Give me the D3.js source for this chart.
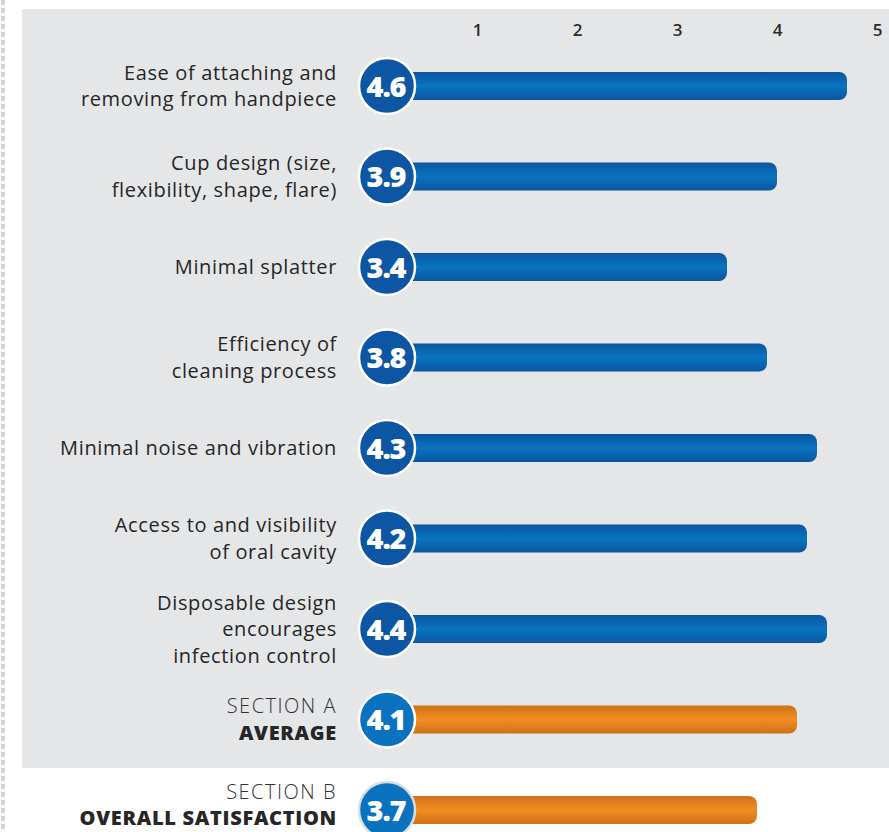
<!DOCTYPE html>
<html>
<head>
<meta charset="utf-8">
<script src="https://cdn.jsdelivr.net/npm/d3@7"></script>
<style>
  body { margin: 0; background: #fff; }
  svg { display: block; }
</style>
</head>
<body>
<script>
// chart data
var labels = [
  ["Ease of attaching and", "removing from handpiece"],
  ["Cup design (size,", "flexibility, shape, flare)"],
  ["Minimal splatter"],
  ["Efficiency of", "cleaning process"],
  ["Minimal noise and vibration"],
  ["Access to and visibility", "of oral cavity"],
  ["Disposable design", "encourages", "infection control"],
  ["SECTION A", "AVERAGE"],
  ["SECTION B", "OVERALL SATISFACTION"]
];
var scores = [4.6, 3.9, 3.4, 3.8, 4.3, 4.2, 4.4, 4.1, 3.7];
var kinds = ["item", "item", "item", "item", "item", "item", "item", "avgA", "avgB"];
var tickValues = [1, 2, 3, 4, 5];

let w = 889;
let h = 832;

let svg = d3.select("body")
            .append("svg")
            .attr("width", w)
            .attr("height", h);

let defs = svg.append("defs");
function grad(id, edge, mid) {
  let g = defs.append("linearGradient")
    .attr("id", id)
    .attr("x1", 0).attr("y1", 0).attr("x2", 0).attr("y2", 1);
  g.append("stop").attr("offset", "0%").attr("stop-color", edge);
  g.append("stop").attr("offset", "50%").attr("stop-color", mid);
  g.append("stop").attr("offset", "100%").attr("stop-color", edge);
}
grad("blueGrad", "#0b55a2", "#0a74be");
grad("orangeGrad", "#cd7218", "#f38c22");

// dashed left edge
svg.append("line")
   .attr("x1", 3).attr("x2", 3)
   .attr("y1", 0).attr("y2", h)
   .attr("stroke", "#d2d2d2")
   .attr("stroke-width", 4)
   .attr("stroke-dasharray", "5 3");

// grey panel
svg.append("rect")
   .attr("x", 22).attr("y", 9)
   .attr("width", w - 22).attr("height", 759)
   .attr("fill", "#e5e6e8");

let x = d3.scaleLinear().domain([0, 5]).range([387, 887]);
let y = d3.scalePoint().domain(d3.range(scores.length)).range([86, 810]);

// axis (labels sit slightly left of the bar scale, as in the original)
let axis = svg.append("g")
  .attr("transform", "translate(-10, 36)")
  .call(d3.axisTop(x).tickValues(tickValues).tickSize(0).tickPadding(0).tickFormat(d3.format("d")));
axis.select(".domain").remove();
axis.selectAll("text")
  .attr("font-family", "'Open Sans', sans-serif")
  .attr("font-size", "17px")
  .attr("font-weight", 600)
  .attr("fill", "#2b2b2b");

let rows = svg.selectAll("g.row")
  .data(scores)
  .enter()
  .append("g")
  .attr("class", "row");

// bars
rows.append("rect")
  .attr("x", x(0))
  .attr("y", function(d, i){ return y(i) - 14; })
  .attr("width", function(d){ return x(d) - x(0); })
  .attr("height", 28)
  .attr("rx", 8)
  .attr("fill", function(d, i){
    return kinds[i] == "item" ? "url(#blueGrad)" : "url(#orangeGrad)";
  });

// circles
rows.append("circle")
  .attr("cx", x(0))
  .attr("cy", function(d, i){ return y(i); })
  .attr("r", 28)
  .attr("fill", function(d, i){ return kinds[i] == "item" ? "#0c56a3" : "#0b72bf"; })
  .attr("stroke", function(d, i){ return kinds[i] == "avgB" ? "#dcdde0" : "#ffffff"; })
  .attr("stroke-width", 2.5);

rows.append("text")
  .text(function(d){ return d.toFixed(1); })
  .attr("x", x(0) - 1)
  .attr("y", function(d, i){ return y(i) + 10.5; })
  .attr("text-anchor", "middle")
  .attr("font-family", "'Open Sans', sans-serif")
  .attr("font-size", "29px")
  .attr("font-weight", 800)
  .attr("letter-spacing", "-1.2px")
  .attr("fill", "white");

// labels
rows.each(function(d, i){
  let lines = labels[i];
  let t = d3.select(this).append("text")
    .attr("x", 337)
    .attr("text-anchor", "end")
    .attr("font-family", "'Open Sans', sans-serif")
    .attr("font-size", "20px")
    .attr("fill", "#262626");
  let lh = 26.5;
  let top = y(i) - (lines.length - 1) * lh / 2 + 7;
  if (kinds[i] == "avgB") top -= 5;
  lines.forEach(function(s, k){
    let ts = t.append("tspan")
      .attr("x", 337)
      .attr("y", top + k * lh)
      .text(s);
    if (kinds[i] == "item") {
      ts.attr("font-weight", 500).attr("letter-spacing", "0.65px");
    } else if (k == 0) {
      ts.attr("font-weight", 300).attr("fill", "#333").attr("letter-spacing", "1.5px");
    } else {
      ts.attr("font-weight", 800).attr("letter-spacing", "0.7px");
    }
  });
});
</script>
</body>
</html>
